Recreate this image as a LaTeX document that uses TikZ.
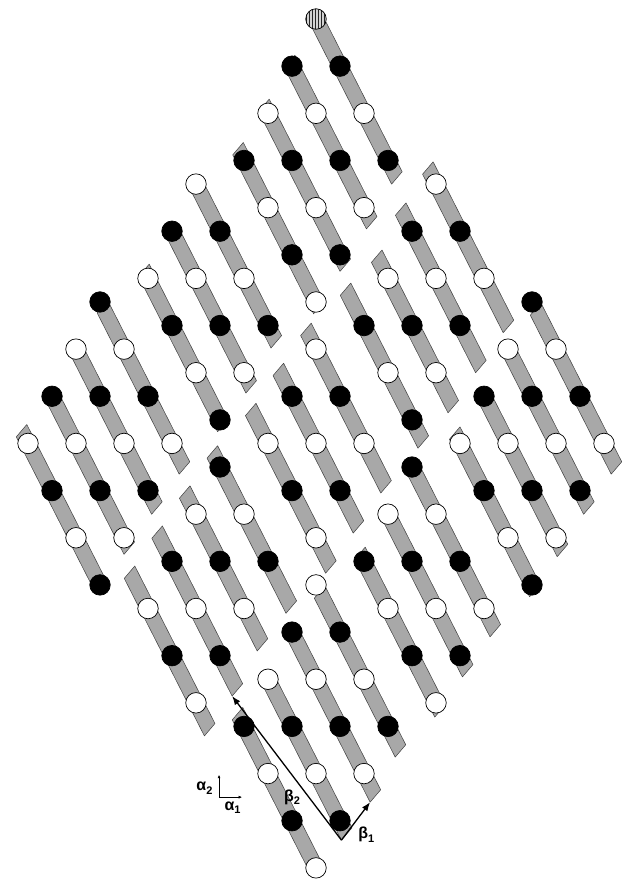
\documentclass[tikz,border=0pt]{standalone}
\usepackage{fontspec}
\usepackage{tikz}
\usetikzlibrary{arrows.meta,patterns}
\newfontfamily\greekfont{Liberation Sans}

% bar on the line 2i-n=#1, running from n=#2 to n=#3; (#4) is its lower tip
\newcommand{\molbar}[4]{%
  \draw[molbar] ({(#1+#2)/2+0.22},{#2-0.263}) -- ({(#1+#3)/2+0.22},{#3-0.263})
    -- ({(#1+#3)/2-0.22},{#3+0.263}) -- ({(#1+#2)/2-0.22},{#2+0.263}) -- cycle;
  \coordinate (#4) at ({(#1+#3)/2-0.22},{#3+0.263});}
% bold greek label with a subscript
\newcommand{\vlabel}[2]{#1\raisebox{-0.45ex}{\fontsize{11}{12}\selectfont #2}}

\begin{document}
\begin{tikzpicture}[x={(24pt,0pt)}, y={(0pt,-23.58pt)}, >=Latex]
  \tikzstyle{molbar}=[draw=black!75, fill=gray!68, line width=0.5pt, line join=round]
  \tikzstyle{mol}=[circle, draw=black, line width=0.7pt, minimum size=20.5pt, inner sep=0pt]
  \tikzstyle{wmol}=[mol, fill=white]
  \tikzstyle{bmol}=[mol, fill=black]
  \tikzstyle{hmol}=[mol, preaction={fill=gray!35}, pattern=vertical lines, pattern color=black!85]
  \tikzstyle{vec}=[->, line width=1.3pt]
  \tikzstyle{axis}=[-{Latex[length=3.5pt,width=3pt]}, line width=0.6pt]
  \tikzstyle{lbl}=[font=\greekfont\bfseries\fontsize{16}{18}\selectfont, inner sep=0pt]

  \useasboundingbox (-0.1667,-0.8058) rectangle (26.0417,36.4716);

  % ------- bars -------
  % top block
  \molbar{26}{0}{6.74}{t1}
  \molbar{22}{1.8}{8.64}{t2}
  \molbar{18}{3.66}{10.44}{t3}
  \molbar{14}{5.5}{12.24}{t4}
  % upper left
  \molbar{9}{6.95}{13.69}{ul1}
  \molbar{5}{8.86}{15.6}{ul2}
  \molbar{1}{10.66}{17.24}{ul3}
  % far left
  \molbar{-4}{12.2}{19.04}{fl1}
  \molbar{-8}{14.0}{20.74}{fl2}
  \molbar{-12}{15.86}{22.44}{fl3}
  \molbar{-16}{17.46}{24.14}{fl4}
  % upper right
  \molbar{29}{6.32}{13.04}{ur1}
  \molbar{25}{8.06}{14.74}{ur2}
  \molbar{21}{10.06}{16.44}{ur3}
  \molbar{17}{11.46}{17.94}{ur4}
  % centre
  \molbar{12}{13.16}{19.84}{ce1}
  \molbar{8}{14.86}{21.54}{ce2}
  \molbar{4}{16.56}{23.24}{ce3}
  % far right
  \molbar{32}{12.3}{19.04}{fr1}
  \molbar{28}{14.0}{20.74}{fr2}
  \molbar{24}{15.86}{22.54}{fr3}
  \molbar{20}{17.56}{24.24}{fr4}
  % lower left
  \molbar{-1}{18.36}{24.94}{ll1}
  \molbar{-5}{20.06}{26.54}{ll2}
  \molbar{-9}{21.76}{28.45}{ll3}
  \molbar{-13}{23.46}{30.14}{ll4}
  % lower right
  \molbar{15}{19.1}{25.94}{lr1}
  \molbar{11}{20.9}{27.64}{lr2}
  \molbar{7}{22.66}{29.34}{lr3}
  % bottom block
  \molbar{2}{24.3}{31.04}{bt1}
  \molbar{-2}{26.0}{32.95}{bt2}
  \molbar{-6}{27.96}{34.56}{bt3}
  \molbar{-10}{29.46}{36.14}{bt4}

  % ------- molecules -------
  % top block
  \node[hmol] (m13-0) at (13,0) {};  \node[bmol] (m14-2) at (14,2) {};  \node[wmol] (m15-4) at (15,4) {};  \node[bmol] (m16-6) at (16,6) {};
  \node[bmol] (m12-2) at (12,2) {};  \node[wmol] (m13-4) at (13,4) {};  \node[bmol] (m14-6) at (14,6) {};  \node[wmol] (m15-8) at (15,8) {};
  \node[wmol] (m11-4) at (11,4) {};  \node[bmol] (m12-6) at (12,6) {};  \node[wmol] (m13-8) at (13,8) {};  \node[bmol] (m14-10) at (14,10) {};
  \node[bmol] (m10-6) at (10,6) {};  \node[wmol] (m11-8) at (11,8) {};  \node[bmol] (m12-10) at (12,10) {}; \node[wmol] (m13-12) at (13,12) {};
  % upper left
  \node[wmol] (m8-7) at (8,7) {};    \node[bmol] (m9-9) at (9,9) {};    \node[wmol] (m10-11) at (10,11) {}; \node[bmol] (m11-13) at (11,13) {};
  \node[bmol] (m7-9) at (7,9) {};    \node[wmol] (m8-11) at (8,11) {};  \node[bmol] (m9-13) at (9,13) {};   \node[wmol] (m10-15) at (10,15) {};
  \node[wmol] (m6-11) at (6,11) {};  \node[bmol] (m7-13) at (7,13) {};  \node[wmol] (m8-15) at (8,15) {};   \node[bmol] (m9-17) at (9,17) {};
  % far left
  \node[bmol] (m4-12) at (4,12) {};  \node[wmol] (m5-14) at (5,14) {};  \node[bmol] (m6-16) at (6,16) {};   \node[wmol] (m7-18) at (7,18) {};
  \node[wmol] (m3-14) at (3,14) {};  \node[bmol] (m4-16) at (4,16) {};  \node[wmol] (m5-18) at (5,18) {};   \node[bmol] (m6-20) at (6,20) {};
  \node[bmol] (m2-16) at (2,16) {};  \node[wmol] (m3-18) at (3,18) {};  \node[bmol] (m4-20) at (4,20) {};   \node[wmol] (m5-22) at (5,22) {};
  \node[wmol] (m1-18) at (1,18) {};  \node[bmol] (m2-20) at (2,20) {};  \node[wmol] (m3-22) at (3,22) {};   \node[bmol] (m4-24) at (4,24) {};
  % upper right
  \node[wmol] (m18-7) at (18,7) {};  \node[bmol] (m19-9) at (19,9) {};  \node[wmol] (m20-11) at (20,11) {};
  \node[bmol] (m17-9) at (17,9) {};  \node[wmol] (m18-11) at (18,11) {}; \node[bmol] (m19-13) at (19,13) {};
  \node[wmol] (m16-11) at (16,11) {}; \node[bmol] (m17-13) at (17,13) {}; \node[wmol] (m18-15) at (18,15) {};
  \node[bmol] (m15-13) at (15,13) {}; \node[wmol] (m16-15) at (16,15) {}; \node[bmol] (m17-17) at (17,17) {};
  % centre
  \node[wmol] (m13-14) at (13,14) {}; \node[bmol] (m14-16) at (14,16) {}; \node[wmol] (m15-18) at (15,18) {};
  \node[bmol] (m12-16) at (12,16) {}; \node[wmol] (m13-18) at (13,18) {}; \node[bmol] (m14-20) at (14,20) {};
  \node[wmol] (m11-18) at (11,18) {}; \node[bmol] (m12-20) at (12,20) {}; \node[wmol] (m13-22) at (13,22) {};
  % far right
  \node[bmol] (m22-12) at (22,12) {}; \node[wmol] (m23-14) at (23,14) {}; \node[bmol] (m24-16) at (24,16) {}; \node[wmol] (m25-18) at (25,18) {};
  \node[wmol] (m21-14) at (21,14) {}; \node[bmol] (m22-16) at (22,16) {}; \node[wmol] (m23-18) at (23,18) {}; \node[bmol] (m24-20) at (24,20) {};
  \node[bmol] (m20-16) at (20,16) {}; \node[wmol] (m21-18) at (21,18) {}; \node[bmol] (m22-20) at (22,20) {}; \node[wmol] (m23-22) at (23,22) {};
  \node[wmol] (m19-18) at (19,18) {}; \node[bmol] (m20-20) at (20,20) {}; \node[wmol] (m21-22) at (21,22) {}; \node[bmol] (m22-24) at (22,24) {};
  % lower left
  \node[bmol] (m9-19) at (9,19) {};  \node[wmol] (m10-21) at (10,21) {}; \node[bmol] (m11-23) at (11,23) {};
  \node[wmol] (m8-21) at (8,21) {};  \node[bmol] (m9-23) at (9,23) {};   \node[wmol] (m10-25) at (10,25) {};
  \node[bmol] (m7-23) at (7,23) {};  \node[wmol] (m8-25) at (8,25) {};   \node[bmol] (m9-27) at (9,27) {};
  \node[wmol] (m6-25) at (6,25) {};  \node[bmol] (m7-27) at (7,27) {};   \node[wmol] (m8-29) at (8,29) {};
  % lower right
  \node[bmol] (m17-19) at (17,19) {}; \node[wmol] (m18-21) at (18,21) {}; \node[bmol] (m19-23) at (19,23) {}; \node[wmol] (m20-25) at (20,25) {};
  \node[wmol] (m16-21) at (16,21) {}; \node[bmol] (m17-23) at (17,23) {}; \node[wmol] (m18-25) at (18,25) {}; \node[bmol] (m19-27) at (19,27) {};
  \node[bmol] (m15-23) at (15,23) {}; \node[wmol] (m16-25) at (16,25) {}; \node[bmol] (m17-27) at (17,27) {}; \node[wmol] (m18-29) at (18,29) {};
  % bottom block
  \node[wmol] (m13-24) at (13,24) {}; \node[bmol] (m14-26) at (14,26) {}; \node[wmol] (m15-28) at (15,28) {}; \node[bmol] (m16-30) at (16,30) {};
  \node[bmol] (m12-26) at (12,26) {}; \node[wmol] (m13-28) at (13,28) {}; \node[bmol] (m14-30) at (14,30) {}; \node[wmol] (m15-32) at (15,32) {};
  \node[wmol] (m11-28) at (11,28) {}; \node[bmol] (m12-30) at (12,30) {}; \node[wmol] (m13-32) at (13,32) {}; \node[bmol] (m14-34) at (14,34) {};
  \node[bmol] (m10-30) at (10,30) {}; \node[wmol] (m11-32) at (11,32) {}; \node[bmol] (m12-34) at (12,34) {}; \node[wmol] (m13-36) at (13,36) {};

  % ------- axes and cell vectors -------
  \coordinate (ax0) at (8.96,33);
  \coordinate (ax1) at (9.92,33);
  \coordinate (ax2) at (8.96,32.05);
  \draw[axis] (ax0) -- (ax1);
  \draw[axis] (ax0) -- (ax2);
  \node[lbl] (la1) at (9.52,33.45) {\vlabel{α}{1}};
  \node[lbl] (la2) at (8.35,32.62) {\vlabel{α}{2}};

  \draw[vec] (bt3) -- (bt2);
  \draw[vec] (bt3) -- (ll3);
  \node[lbl] (lb1) at (15.1,34.6) {\vlabel{β}{1}};
  \node[lbl] (lb2) at (12.0,33.0) {\vlabel{β}{2}};
\end{tikzpicture}
\end{document}
